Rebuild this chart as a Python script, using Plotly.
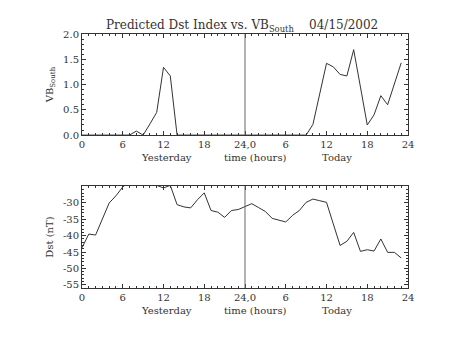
import plotly.graph_objects as go

hours = list(range(48))
vb_south = [0, 0, 0, 0, 0, 0, 0, 0, 0.08, 0, 0.22, 0.45, 1.34, 1.17, 0, 0,
            0, 0, 0, 0, 0, 0, 0, 0,
            0, 0, 0, 0, 0, 0, 0, 0, 0, 0, 0.21, 0.8, 1.42, 1.35, 1.2, 1.17,
            1.69, 0.95, 0.2, 0.4, 0.78, 0.6, 1.0, 1.43]
dst = [-43.7, -39.5, -39.8, -35.0, -30.0, -27.8, -25.1, -23.5, -22.5, -22.0, -22.5, -24.6,
       -25.4, -24.6, -30.5, -31.2, -31.5, -29.0, -26.9, -32.3, -32.8, -34.4, -32.3, -32.0,
       -31.1, -30.2, -31.4, -32.6, -34.7, -35.3, -35.8, -33.8, -32.3, -29.8, -28.8, -29.3,
       -29.8, -36.4, -43.0, -41.7, -39.0, -44.8, -44.3, -44.7, -41.0, -45.1, -45.1, -46.8]

x_tickvals = [0, 6, 12, 18, 24, 30, 36, 42, 48]
x_ticktext = ["0", "6", "12", "18", "24,0", "6", "12", "18", "24"]
vb_tickvals = [0.0, 0.5, 1.0, 1.5, 2.0]
vb_ticktext = ["0.0", "0.5", "1.0", "1.5", "2.0"]
dst_tickvals = [-55, -50, -45, -40, -35, -30]
dst_ticktext = ["-55", "-50", "-45", "-40", "-35", "-30"]
day_labels = ["Yesterday", "time (hours)", "Today"]
day_label_x = [12.5, 25.5, 37.5]

FONT = "DejaVu Serif"
INK = "#333333"

fig = go.Figure()
fig.add_trace(go.Scatter(x=hours, y=vb_south, mode="lines",
                         line=dict(color=INK, width=1), xaxis="x", yaxis="y",
                         showlegend=False, cliponaxis=True))
fig.add_trace(go.Scatter(x=hours, y=dst, mode="lines",
                         line=dict(color=INK, width=1), xaxis="x2", yaxis="y2",
                         showlegend=False, cliponaxis=True))

axis_common = dict(showline=True, linecolor=INK, linewidth=1, mirror="ticks",
                   ticks="inside", ticklen=4, tickcolor=INK, showgrid=False,
                   zeroline=False, tickfont=dict(family=FONT, size=10, color=INK))

fig.update_layout(
    width=453, height=340,
    margin=dict(l=82, r=45, t=34, b=52),
    paper_bgcolor="white", plot_bgcolor="white",
    xaxis=dict(domain=[0, 1], range=[0, 48], tickvals=x_tickvals, ticktext=x_ticktext,
               anchor="y", minor=dict(dtick=1, ticklen=2, ticks="inside", tickcolor=INK),
               **axis_common),
    yaxis=dict(domain=[0.602, 1], range=[0, 2.0], tickvals=vb_tickvals, ticktext=vb_ticktext,
               anchor="x", minor=dict(dtick=0.1, ticklen=2, ticks="inside", tickcolor=INK),
               title=dict(text="VB<sub>South</sub>", font=dict(family=FONT, size=10, color=INK),
                          standoff=7),
               **axis_common),
    xaxis2=dict(domain=[0, 1], range=[0, 48], tickvals=x_tickvals, ticktext=x_ticktext,
                anchor="y2", minor=dict(dtick=1, ticklen=2, ticks="inside", tickcolor=INK),
                **axis_common),
    yaxis2=dict(domain=[0, 0.4016], range=[-56.0, -24.8], tickvals=dst_tickvals,
                ticktext=dst_ticktext, anchor="x2",
                minor=dict(dtick=1, ticklen=2, ticks="inside", tickcolor=INK),
                title=dict(text="Dst (nT)", font=dict(family=FONT, size=10, color=INK),
                           standoff=7),
                **axis_common),
)

for xr, yr in (("x", "y domain"), ("x2", "y2 domain")):
    fig.add_shape(type="line", xref=xr, yref=yr, x0=24, x1=24, y0=0, y1=1,
                  line=dict(color="#666666", width=1))

for xr, yr in (("x", "y domain"), ("x2", "y2 domain")):
    for lab, lx in zip(day_labels, day_label_x):
        fig.add_annotation(text=lab, x=lx, xref=xr, y=0, yref=yr, yanchor="top",
                           yshift=-15, showarrow=False,
                           font=dict(family=FONT, size=10, color=INK))

fig.add_annotation(text="Predicted Dst Index vs. VB<sub>South</sub>\u00a0\u00a0\u00a0\u00a004/15/2002",
                   x=0.49, xref="paper", y=1, yref="paper", yanchor="bottom", yshift=-2,
                   showarrow=False, font=dict(family=FONT, size=12, color=INK))

fig.write_html("out.html")
